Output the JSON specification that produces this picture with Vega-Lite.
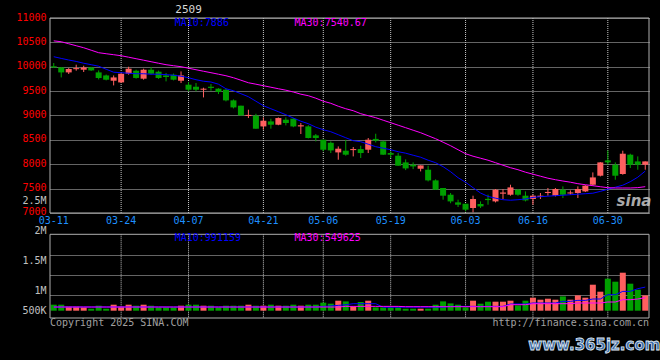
{
"$schema": "https://vega.github.io/schema/vega-lite/v6.json",
"width": 599, "height": 300,
"autosize": {"type": "none"},
"padding": {"left": 50, "top": 18, "right": 11, "bottom": 42},
"background": "#000000",
"config": {"view": {"stroke": null}},
"datasets": {
"grid": [{"date":"03-24"},{"date":"04-07"},{"date":"04-21"},{"date":"05-06"},{"date":"05-19"},{"date":"06-03"},{"date":"06-16"},{"date":"06-30"}],
"k": [
{"date":"03-11","open":10010,"high":10077,"low":9975,"close":9985,"vol":252000,"ma10":10206,"ma30":10531,"vma10":155000,"vma30":155000},
{"date":"03-12","open":9986,"high":9995,"low":9781,"close":9884,"vol":252000,"ma10":10171,"ma30":10513,"vma10":155000,"vma30":155000},
{"date":"03-13","open":9884,"high":9974,"low":9851,"close":9954,"vol":168000,"ma10":10138,"ma30":10472,"vma10":155000,"vma30":155000},
{"date":"03-14","open":9950,"high":10042,"low":9919,"close":9972,"vol":168000,"ma10":10109,"ma30":10431,"vma10":155000,"vma30":155000},
{"date":"03-17","open":9939,"high":10021,"low":9892,"close":9986,"vol":139000,"ma10":10072,"ma30":10390,"vma10":155000,"vma30":155000},
{"date":"03-18","open":9986,"high":9995,"low":9915,"close":9925,"vol":84000,"ma10":10042,"ma30":10339,"vma10":155000,"vma30":155000},
{"date":"03-19","open":9884,"high":9925,"low":9740,"close":9769,"vol":210000,"ma10":10011,"ma30":10288,"vma10":155000,"vma30":155000},
{"date":"03-20","open":9822,"high":9840,"low":9720,"close":9734,"vol":84000,"ma10":9949,"ma30":10267,"vma10":155000,"vma30":155000},
{"date":"03-21","open":9713,"high":9822,"low":9617,"close":9781,"vol":252000,"ma10":9888,"ma30":10247,"vma10":155000,"vma30":155000},
{"date":"03-24","open":9679,"high":9870,"low":9670,"close":9857,"vol":168000,"ma10":9878,"ma30":10226,"vma10":155000,"vma30":155000},
{"date":"03-25","open":9857,"high":10000,"low":9837,"close":9960,"vol":252000,"ma10":9867,"ma30":10196,"vma10":155000,"vma30":155000},
{"date":"03-26","open":9919,"high":9940,"low":9755,"close":9770,"vol":210000,"ma10":9857,"ma30":10165,"vma10":155000,"vma30":155000},
{"date":"03-27","open":9755,"high":9960,"low":9735,"close":9939,"vol":252000,"ma10":9857,"ma30":10134,"vma10":155000,"vma30":155000},
{"date":"03-28","open":9939,"high":9995,"low":9837,"close":9857,"vol":210000,"ma10":9847,"ma30":10103,"vma10":155000,"vma30":155000},
{"date":"03-31","open":9898,"high":9920,"low":9750,"close":9769,"vol":139000,"ma10":9847,"ma30":10072,"vma10":155000,"vma30":155000},
{"date":"04-01","open":9822,"high":9871,"low":9700,"close":9790,"vol":139000,"ma10":9837,"ma30":10042,"vma10":155000,"vma30":155000},
{"date":"04-02","open":9837,"high":9860,"low":9720,"close":9734,"vol":139000,"ma10":9826,"ma30":10021,"vma10":155000,"vma30":155000},
{"date":"04-03","open":9713,"high":9904,"low":9666,"close":9822,"vol":210000,"ma10":9806,"ma30":10001,"vma10":155000,"vma30":155000},
{"date":"04-07","open":9632,"high":9686,"low":9495,"close":9529,"vol":252000,"ma10":9775,"ma30":9970,"vma10":155000,"vma30":155000},
{"date":"04-08","open":9590,"high":9666,"low":9495,"close":9529,"vol":252000,"ma10":9734,"ma30":9939,"vma10":155000,"vma30":155000},
{"date":"04-09","open":9529,"high":9570,"low":9371,"close":9550,"vol":210000,"ma10":9703,"ma30":9908,"vma10":155000,"vma30":155000},
{"date":"04-10","open":9590,"high":9646,"low":9508,"close":9565,"vol":210000,"ma10":9687,"ma30":9878,"vma10":155000,"vma30":155000},
{"date":"04-11","open":9550,"high":9560,"low":9440,"close":9482,"vol":139000,"ma10":9642,"ma30":9847,"vma10":155000,"vma30":155000},
{"date":"04-14","open":9529,"high":9550,"low":9290,"close":9310,"vol":210000,"ma10":9549,"ma30":9816,"vma10":155000,"vma30":155000},
{"date":"04-15","open":9310,"high":9330,"low":9145,"close":9166,"vol":210000,"ma10":9508,"ma30":9775,"vma10":155000,"vma30":155000},
{"date":"04-16","open":9201,"high":9201,"low":9000,"close":9002,"vol":210000,"ma10":9447,"ma30":9724,"vma10":155000,"vma30":155000},
{"date":"04-17","open":8990,"high":9119,"low":8948,"close":9012,"vol":252000,"ma10":9385,"ma30":9672,"vma10":155000,"vma30":155000},
{"date":"04-18","open":8996,"high":9035,"low":8729,"close":8729,"vol":210000,"ma10":9293,"ma30":9642,"vma10":155000,"vma30":155000},
{"date":"04-21","open":8776,"high":8961,"low":8709,"close":8893,"vol":210000,"ma10":9201,"ma30":9611,"vma10":155000,"vma30":155000},
{"date":"04-22","open":8879,"high":8934,"low":8729,"close":8811,"vol":252000,"ma10":9139,"ma30":9580,"vma10":155000,"vma30":155000},
{"date":"04-23","open":8811,"high":8960,"low":8800,"close":8948,"vol":210000,"ma10":9078,"ma30":9549,"vma10":155000,"vma30":155000},
{"date":"04-24","open":8914,"high":8961,"low":8797,"close":8846,"vol":210000,"ma10":9016,"ma30":9519,"vma10":155000,"vma30":155000},
{"date":"04-25","open":8934,"high":8950,"low":8760,"close":8776,"vol":252000,"ma10":8948,"ma30":9482,"vma10":155000,"vma30":155000},
{"date":"04-28","open":8776,"high":8846,"low":8620,"close":8800,"vol":210000,"ma10":8883,"ma30":9437,"vma10":155000,"vma30":155000},
{"date":"04-29","open":8776,"high":8800,"low":8530,"close":8538,"vol":252000,"ma10":8832,"ma30":9406,"vma10":155000,"vma30":155000},
{"date":"04-30","open":8592,"high":8620,"low":8469,"close":8538,"vol":252000,"ma10":8760,"ma30":9355,"vma10":155000,"vma30":155000},
{"date":"05-06","open":8503,"high":8503,"low":8265,"close":8298,"vol":336000,"ma10":8708,"ma30":9293,"vma10":180000,"vma30":155000},
{"date":"05-07","open":8440,"high":8469,"low":8230,"close":8284,"vol":294000,"ma10":8667,"ma30":9250,"vma10":200000,"vma30":155000},
{"date":"05-08","open":8243,"high":8366,"low":8093,"close":8319,"vol":420000,"ma10":8606,"ma30":9190,"vma10":223000,"vma30":155000},
{"date":"05-09","open":8278,"high":8500,"low":8175,"close":8196,"vol":391000,"ma10":8544,"ma30":9139,"vma10":250000,"vma30":181000},
{"date":"05-12","open":8290,"high":8354,"low":8161,"close":8312,"vol":181000,"ma10":8483,"ma30":9098,"vma10":294000,"vma30":181000},
{"date":"05-13","open":8312,"high":8380,"low":8128,"close":8230,"vol":365000,"ma10":8462,"ma30":9037,"vma10":294000,"vma30":181000},
{"date":"05-14","open":8298,"high":8538,"low":8230,"close":8503,"vol":420000,"ma10":8411,"ma30":8996,"vma10":294000,"vma30":181000},
{"date":"05-15","open":8520,"high":8626,"low":8448,"close":8483,"vol":139000,"ma10":8360,"ma30":8955,"vma10":294000,"vma30":181000},
{"date":"05-16","open":8469,"high":8480,"low":8190,"close":8196,"vol":139000,"ma10":8329,"ma30":8903,"vma10":147000,"vma30":181000},
{"date":"05-19","open":8230,"high":8264,"low":8128,"close":8196,"vol":139000,"ma10":8298,"ma30":8852,"vma10":147000,"vma30":181000},
{"date":"05-20","open":8175,"high":8230,"low":7970,"close":7970,"vol":139000,"ma10":8257,"ma30":8801,"vma10":147000,"vma30":181000},
{"date":"05-21","open":8038,"high":8100,"low":7880,"close":7915,"vol":84000,"ma10":8227,"ma30":8750,"vma10":147000,"vma30":168000},
{"date":"05-22","open":7990,"high":8038,"low":7900,"close":7956,"vol":84000,"ma10":8185,"ma30":8698,"vma10":147000,"vma30":168000},
{"date":"05-23","open":7908,"high":7976,"low":7853,"close":7976,"vol":84000,"ma10":8144,"ma30":8647,"vma10":147000,"vma30":168000},
{"date":"05-26","open":7888,"high":7970,"low":7648,"close":7669,"vol":84000,"ma10":8083,"ma30":8585,"vma10":147000,"vma30":168000},
{"date":"05-27","open":7669,"high":7690,"low":7478,"close":7478,"vol":252000,"ma10":8032,"ma30":8524,"vma10":147000,"vma30":168000},
{"date":"05-28","open":7513,"high":7513,"low":7273,"close":7355,"vol":391000,"ma10":7950,"ma30":8452,"vma10":147000,"vma30":168000},
{"date":"05-29","open":7375,"high":7410,"low":7200,"close":7238,"vol":307000,"ma10":7847,"ma30":8380,"vma10":181000,"vma30":168000},
{"date":"05-30","open":7218,"high":7273,"low":7123,"close":7170,"vol":252000,"ma10":7724,"ma30":8298,"vma10":181000,"vma30":168000},
{"date":"06-03","open":7190,"high":7190,"low":7033,"close":7068,"vol":139000,"ma10":7632,"ma30":8216,"vma10":181000,"vma30":168000},
{"date":"06-04","open":7103,"high":7355,"low":7012,"close":7287,"vol":420000,"ma10":7519,"ma30":8165,"vma10":181000,"vma30":168000},
{"date":"06-05","open":7185,"high":7238,"low":7103,"close":7135,"vol":294000,"ma10":7410,"ma30":8124,"vma10":181000,"vma30":168000},
{"date":"06-06","open":7290,"high":7375,"low":7170,"close":7265,"vol":378000,"ma10":7340,"ma30":8083,"vma10":181000,"vma30":168000},
{"date":"06-09","open":7238,"high":7492,"low":7217,"close":7478,"vol":378000,"ma10":7304,"ma30":8032,"vma10":181000,"vma30":168000},
{"date":"06-10","open":7396,"high":7492,"low":7287,"close":7420,"vol":378000,"ma10":7273,"ma30":7980,"vma10":181000,"vma30":168000},
{"date":"06-11","open":7375,"high":7580,"low":7355,"close":7525,"vol":420000,"ma10":7262,"ma30":7929,"vma10":281000,"vma30":252000},
{"date":"06-12","open":7478,"high":7492,"low":7355,"close":7375,"vol":223000,"ma10":7273,"ma30":7888,"vma10":281000,"vma30":252000},
{"date":"06-13","open":7355,"high":7443,"low":7238,"close":7258,"vol":420000,"ma10":7287,"ma30":7837,"vma10":281000,"vma30":252000},
{"date":"06-16","open":7287,"high":7375,"low":7170,"close":7355,"vol":546000,"ma10":7320,"ma30":7796,"vma10":323000,"vma30":294000},
{"date":"06-17","open":7328,"high":7410,"low":7287,"close":7355,"vol":462000,"ma10":7334,"ma30":7755,"vma10":323000,"vma30":294000},
{"date":"06-18","open":7410,"high":7513,"low":7355,"close":7432,"vol":504000,"ma10":7345,"ma30":7714,"vma10":323000,"vma30":294000},
{"date":"06-19","open":7355,"high":7513,"low":7340,"close":7492,"vol":462000,"ma10":7355,"ma30":7683,"vma10":323000,"vma30":294000},
{"date":"06-20","open":7478,"high":7546,"low":7307,"close":7375,"vol":601000,"ma10":7365,"ma30":7656,"vma10":391000,"vma30":294000},
{"date":"06-23","open":7400,"high":7464,"low":7375,"close":7422,"vol":462000,"ma10":7375,"ma30":7632,"vma10":391000,"vma30":294000},
{"date":"06-24","open":7410,"high":7546,"low":7307,"close":7492,"vol":643000,"ma10":7386,"ma30":7601,"vma10":433000,"vma30":323000},
{"date":"06-25","open":7443,"high":7570,"low":7430,"close":7560,"vol":546000,"ma10":7396,"ma30":7580,"vma10":433000,"vma30":323000},
{"date":"06-26","open":7580,"high":7833,"low":7560,"close":7730,"vol":1092000,"ma10":7406,"ma30":7560,"vma10":491000,"vma30":323000},
{"date":"06-27","open":7765,"high":8045,"low":7750,"close":8038,"vol":798000,"ma10":7443,"ma30":7539,"vma10":491000,"vma30":323000},
{"date":"06-30","open":8079,"high":8284,"low":7990,"close":8038,"vol":1344000,"ma10":7488,"ma30":7519,"vma10":672000,"vma30":365000},
{"date":"07-01","open":7990,"high":8038,"low":7683,"close":7765,"vol":1218000,"ma10":7529,"ma30":7513,"vma10":672000,"vma30":365000},
{"date":"07-02","open":7800,"high":8278,"low":7785,"close":8216,"vol":1596000,"ma10":7570,"ma30":7513,"vma10":811000,"vma30":462000},
{"date":"07-03","open":8196,"high":8216,"low":7923,"close":7990,"vol":1134000,"ma10":7642,"ma30":7513,"vma10":811000,"vma30":462000},
{"date":"07-04","open":8058,"high":8161,"low":7888,"close":7990,"vol":882000,"ma10":7734,"ma30":7520,"vma10":924000,"vma30":491000},
{"date":"07-07","open":7990,"high":8058,"low":7888,"close":8058,"vol":643000,"ma10":7860,"ma30":7540,"vma10":991159,"vma30":549625}
]},
"layer": [
{"layer": [
 {"data": {"name": "grid"}, "mark": {"type": "rule", "color": "#c8c8c8", "strokeDash": [1, 1], "strokeWidth": 1},
  "encoding": {
   "x": {"field": "date", "type": "ordinal", "bandPosition": 0.5, "scale": {"type": "band", "paddingInner": 0, "paddingOuter": 0},
     "axis": {"orient": "bottom", "offset": -105, "title": null, "values": ["03-11","03-24","04-07","04-21","05-06","05-19","06-03","06-16","06-30"], "bandPosition": 0.5, "labelColor": "#1E90FF", "labelFont": "DejaVu Sans Mono", "labelFontSize": 10, "labelAngle": 0, "labelPadding": 2, "ticks": false, "domain": false, "grid": false, "labelOverlap": false}},
   "y": {"datum": 11000, "type": "quantitative", "scale": {"domain": [4846.15, 11000], "nice": false, "zero": false},
     "axis": {"orient": "left", "title": null, "values": [7000,7500,8000,8500,9000,9500,10000,10500,11000], "format": "d", "tickCount": 9, "labelColor": "#FF0000", "labelFont": "DejaVu Sans Mono", "labelFontSize": 10, "labelPadding": 4, "ticks": false, "domain": false, "grid": true, "gridColor": "#c8c8c8", "gridDash": [1, 1], "labelOverlap": false, "labelBaseline": "middle", "labelOffset": -1}},
   "y2": {"datum": 7000}}},
 {"data": {"name": "k"}, "mark": {"type": "rule", "strokeWidth": 1},
  "encoding": {
   "x": {"field": "date", "type": "ordinal"},
   "y": {"field": "low", "type": "quantitative"},
   "y2": {"field": "high"},
   "color": {"condition": {"test": "datum.close >= datum.open", "value": "#FF5F5F"}, "value": "#00A000"}}},
 {"data": {"name": "k"}, "mark": {"type": "bar", "size": 6},
  "encoding": {"x": {"field": "date", "type": "ordinal"}, "y": {"field": "open", "type": "quantitative"}, "y2": {"field": "close"},
   "color": {"condition": {"test": "datum.close >= datum.open", "value": "#FF5F5F"}, "value": "#00A000"}}},
 {"data": {"name": "k"}, "mark": {"type": "line", "color": "#0000FF", "strokeWidth": 1},
  "encoding": {"x": {"field": "date", "type": "ordinal"}, "y": {"field": "ma10", "type": "quantitative"}}},
 {"data": {"name": "k"}, "mark": {"type": "line", "color": "#FF00FF", "strokeWidth": 1},
  "encoding": {"x": {"field": "date", "type": "ordinal"}, "y": {"field": "ma30", "type": "quantitative"}}},
 {"data": {"values": [{}]}, "mark": {"type": "rule", "color": "#b0b0b0"}, "encoding": {"y": {"datum": 11000, "type": "quantitative"}}},
 {"data": {"values": [{}]}, "mark": {"type": "rule", "color": "#b0b0b0"}, "encoding": {"y": {"datum": 7000, "type": "quantitative"}}},
 {"data": {"values": [{"date": "03-11"}]}, "mark": {"type": "rule", "color": "#b0b0b0"},
  "encoding": {"x": {"field": "date", "type": "ordinal", "bandPosition": 0}, "y": {"datum": 11000, "type": "quantitative"}, "y2": {"datum": 7000}}},
 {"data": {"values": [{"date": "07-07"}]}, "mark": {"type": "rule", "color": "#b0b0b0"},
  "encoding": {"x": {"field": "date", "type": "ordinal", "bandPosition": 1}, "y": {"datum": 11000, "type": "quantitative"}, "y2": {"datum": 7000}}},
 {"data": {"values": [{"date": "04-07", "t": "2509"}]}, "mark": {"type": "text", "color": "#d8d8d8", "font": "DejaVu Sans Mono", "fontSize": 11, "align": "center", "baseline": "middle"},
  "encoding": {"x": {"field": "date", "type": "ordinal", "bandPosition": 0.5}, "y": {"datum": 11164, "type": "quantitative"}, "text": {"field": "t"}}},
 {"data": {"values": [{"date": "04-02", "t": "MA10:7886"}]}, "mark": {"type": "text", "color": "#0000FF", "font": "DejaVu Sans Mono", "fontSize": 10, "align": "left", "baseline": "middle"},
  "encoding": {"x": {"field": "date", "type": "ordinal", "bandPosition": 0.66}, "y": {"datum": 10891, "type": "quantitative"}, "text": {"field": "t"}}},
 {"data": {"values": [{"date": "04-25", "t": "MA30:7540.67"}]}, "mark": {"type": "text", "color": "#FF00FF", "font": "DejaVu Sans Mono", "fontSize": 10, "align": "left", "baseline": "middle"},
  "encoding": {"x": {"field": "date", "type": "ordinal", "bandPosition": 0.66}, "y": {"datum": 10891, "type": "quantitative"}, "text": {"field": "t"}}},
 {"data": {"values": [{"date": "07-03", "t": "sina"}]}, "mark": {"type": "text", "color": "#c8c8c8", "font": "DejaVu Sans", "fontSize": 15, "fontWeight": "bold", "fontStyle": "italic", "align": "center", "baseline": "middle", "opacity": 0.85},
  "encoding": {"x": {"field": "date", "type": "ordinal", "bandPosition": 1}, "y": {"datum": 7246, "type": "quantitative"}, "text": {"field": "t"}}}
]},
{"layer": [
 {"data": {"name": "grid"}, "mark": {"type": "rule", "color": "#c8c8c8", "strokeDash": [1, 1], "strokeWidth": 1},
  "encoding": {"x": {"field": "date", "type": "ordinal", "bandPosition": 0.5},
   "y": {"datum": 3208800, "type": "quantitative", "scale": {"domain": [-306600, 12293400], "nice": false, "zero": false},
     "axis": {"orient": "left", "title": null, "values": [16800, 646800, 856800, 1486800, 2116800, 2326800, 3360000, 4649400],
       "labelExpr": "datum.value == 4649400 ? '2.5M' : datum.value == 3360000 ? '2M' : datum.value == 2116800 ? '1.5M' : datum.value == 856800 ? '1M' : datum.value == 16800 ? '500K' : ''",
       "labelColor": "#c0c0c0", "labelFont": "DejaVu Sans Mono", "labelFontSize": 10, "labelPadding": 4, "ticks": false, "domain": false, "grid": true, "gridColor": "#c8c8c8", "gridDash": [1, 1],
       "gridOpacity": {"condition": {"test": "datum.value == 646800 || datum.value == 1486800 || datum.value == 2326800", "value": 1}, "value": 0},
       "labelOverlap": false, "labelBaseline": "middle"}},
   "y2": {"datum": -306600}}},
 {"data": {"name": "k"}, "mark": {"type": "bar", "size": 6},
  "encoding": {"x": {"field": "date", "type": "ordinal"},
   "y": {"field": "vol", "type": "quantitative"},
   "color": {"condition": {"test": "datum.close >= datum.open", "value": "#FF5F5F"}, "value": "#00A000"}}},
 {"data": {"name": "k"}, "mark": {"type": "line", "color": "#0000FF", "strokeWidth": 1},
  "encoding": {"x": {"field": "date", "type": "ordinal"}, "y": {"field": "vma10", "type": "quantitative"}}},
 {"data": {"name": "k"}, "mark": {"type": "line", "color": "#FF00FF", "strokeWidth": 1},
  "encoding": {"x": {"field": "date", "type": "ordinal"}, "y": {"field": "vma30", "type": "quantitative"}}},
 {"data": {"values": [{}]}, "mark": {"type": "rule", "color": "#b0b0b0"}, "encoding": {"y": {"datum": 3208800, "type": "quantitative"}}},
 {"data": {"values": [{}]}, "mark": {"type": "rule", "color": "#b0b0b0"}, "encoding": {"y": {"datum": -306600, "type": "quantitative"}}},
 {"data": {"values": [{"date": "03-11"}]}, "mark": {"type": "rule", "color": "#b0b0b0"},
  "encoding": {"x": {"field": "date", "type": "ordinal", "bandPosition": 0}, "y": {"datum": 3208800, "type": "quantitative"}, "y2": {"datum": -306600}}},
 {"data": {"values": [{"date": "07-07"}]}, "mark": {"type": "rule", "color": "#b0b0b0"},
  "encoding": {"x": {"field": "date", "type": "ordinal", "bandPosition": 1}, "y": {"datum": 3208800, "type": "quantitative"}, "y2": {"datum": -306600}}},
 {"data": {"values": [{"date": "04-02", "t": "MA10:991159"}]}, "mark": {"type": "text", "color": "#0000FF", "font": "DejaVu Sans Mono", "fontSize": 10, "align": "left", "baseline": "middle"},
  "encoding": {"x": {"field": "date", "type": "ordinal", "bandPosition": 0.66}, "y": {"datum": 3040800, "type": "quantitative"}, "text": {"field": "t"}}},
 {"data": {"values": [{"date": "04-25", "t": "MA30:549625"}]}, "mark": {"type": "text", "color": "#FF00FF", "font": "DejaVu Sans Mono", "fontSize": 10, "align": "left", "baseline": "middle"},
  "encoding": {"x": {"field": "date", "type": "ordinal", "bandPosition": 0.66}, "y": {"datum": 3040800, "type": "quantitative"}, "text": {"field": "t"}}},
 {"data": {"values": [{"date": "03-11", "t": "Copyright 2025 SINA.COM"}]}, "mark": {"type": "text", "color": "#a0a0a0", "font": "DejaVu Sans Mono", "fontSize": 10, "align": "left", "baseline": "middle"},
  "encoding": {"x": {"field": "date", "type": "ordinal", "bandPosition": 0}, "y": {"datum": -529200, "type": "quantitative"}, "text": {"field": "t"}}},
 {"data": {"values": [{"date": "07-07", "t": "http://finance.sina.com.cn"}]}, "mark": {"type": "text", "color": "#a0a0a0", "font": "DejaVu Sans Mono", "fontSize": 10, "align": "right", "baseline": "middle"},
  "encoding": {"x": {"field": "date", "type": "ordinal", "bandPosition": 1}, "y": {"datum": -529200, "type": "quantitative"}, "text": {"field": "t"}}},
 {"data": {"values": [{"date": "06-26", "t": "www.365jz.com"}]}, "mark": {"type": "text", "color": "#3d6aa6", "stroke": "#dfe8f4", "strokeWidth": 0.8, "font": "DejaVu Sans", "fontSize": 15, "fontWeight": "bold", "align": "center", "baseline": "middle"},
  "encoding": {"x": {"field": "date", "type": "ordinal", "bandPosition": 0.7}, "y": {"datum": -1440600, "type": "quantitative"}, "text": {"field": "t"}}}
]}
],
"resolve": {"scale": {"y": "independent"}, "axis": {"y": "independent"}}
}
